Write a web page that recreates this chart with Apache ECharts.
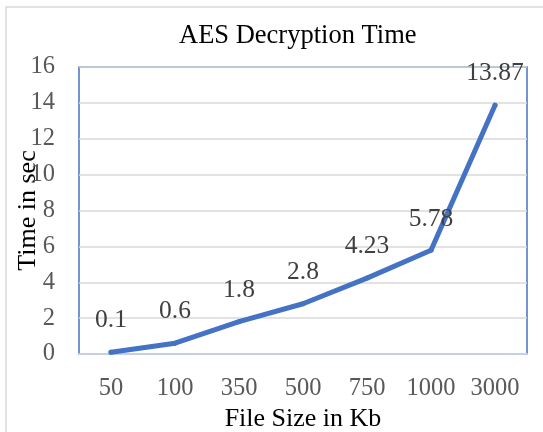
<!DOCTYPE html>
<html>
<head>
<meta charset="utf-8">
<script src="https://cdn.jsdelivr.net/npm/echarts@6/dist/echarts.min.js"></script>
<style>
html,body{margin:0;padding:0;background:#fff;}
#chart{width:543px;height:432px;}
</style>
</head>
<body>
<div id="chart"></div>
<script>
const categories = ['50', '100', '350', '500', '750', '1000', '3000'];
const decryptTime = [0.1, 0.6, 1.8, 2.8, 4.23, 5.78, 13.87];
const yTicks = [0, 2, 4, 6, 8, 10, 12, 14, 16];

const font = '"Liberation Serif", "Times New Roman", serif';
const chart = echarts.init(document.getElementById('chart'));
chart.setOption({
  animation: false,
  backgroundColor: '#fff',
  graphic: [{
    type: 'rect',
    shape: {x: 6, y: 7, width: 600, height: 500},
    style: {fill: 'none', stroke: '#d9d9d9', lineWidth: 1.5},
    silent: true
  }],
  title: {
    text: 'AES Decryption Time',
    left: 174,
    top: 18,
    textStyle: {fontFamily: font, fontSize: 26.5, fontWeight: 'normal', color: '#000'}
  },
  grid: {
    left: 79, right: 16, top: 67, bottom: 78,
    show: true, borderColor: '#4472C4', borderWidth: 1.5,
    containLabel: false,
    outerBoundsMode: 'none'
  },
  xAxis: {
    type: 'category',
    data: categories,
    boundaryGap: true,
    name: 'File Size in Kb',
    nameLocation: 'middle',
    nameGap: 52,
    nameMoveOverlap: false,
    nameTextStyle: {fontFamily: font, fontSize: 26, color: '#000'},
    axisLine: {show: true, lineStyle: {color: '#c5cfe6', width: 2}},
    axisTick: {show: false},
    axisLabel: {fontFamily: font, fontSize: 24.5, color: '#595959', margin: 22, interval: 0, hideOverlap: false}
  },
  yAxis: {
    type: 'value',
    min: 0, max: 16, interval: 2,
    name: 'Time in sec',
    nameLocation: 'middle',
    nameRotate: 90,
    nameGap: 38,
    nameMoveOverlap: false,
    nameTextStyle: {fontFamily: font, fontSize: 26, color: '#000'},
    axisLine: {show: false},
    axisTick: {show: false},
    axisLabel: {
      fontFamily: font, fontSize: 24.5, color: '#595959', margin: 24,
      formatter: v => yTicks.includes(v) ? String(v) : ''
    },
    splitLine: {show: true, lineStyle: {color: '#d9d9d9', width: 1.5}}
  },
  series: [{
    type: 'line',
    data: decryptTime,
    smooth: false,
    symbol: 'circle',
    symbolSize: 5,
    showSymbol: true,
    lineStyle: {color: '#4472C4', width: 5, cap: 'round', join: 'round'},
    itemStyle: {color: '#4472C4'},
    label: {
      show: true,
      position: 'top',
      distance: 16,
      fontFamily: font, fontSize: 25.5, color: '#404040',
      formatter: p => String(p.value)
    },
    labelLayout: {hideOverlap: false},
    z: 3
  }]
});
</script>
</body>
</html>
